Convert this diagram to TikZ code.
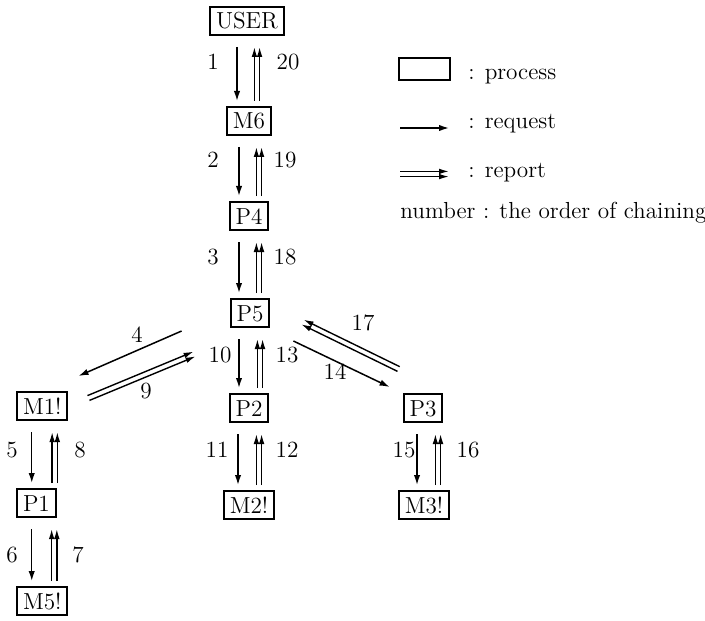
\documentclass[tikz,border=0pt]{standalone}
\usetikzlibrary{arrows.meta,calc}

% vertical request/report pair between two stacked processes;
% #1 gives the x reference, #2 upper node, #3 lower node,
% #4 / #5 horizontal offsets of the request and report lines
\newcommand\vpair[5]{%
  \draw[req] ($(#1.south |- #2.south)+(#4,11)$) -- ($(#1.south |- #3.north)+(#4,-5)$);
  \coordinate (#2-#3-a) at ($(#1.south |- #3.north)+(#5,-5)$);
  \coordinate (#2-#3-b) at ($(#1.south |- #2.south)+(#5,11)$);
  \reportline{#2-#3-a}{#2-#3-b}}

% report: two parallel lines, each with its own head, tip at #2
\newcommand\reportline[2]{%
  \draw[repl] ($(#1)!1.3pt!90:(#2)$) -- ($(#2)!1.3pt!-90:(#1)$);
  \draw[repl] ($(#1)!1.3pt!-90:(#2)$) -- ($(#2)!1.3pt!90:(#1)$);}

\begin{document}
\begin{tikzpicture}[x=0.5pt,y=-0.5pt,
  every node/.style={font=\fontsize{11.6}{14}\selectfont},
  proc/.style={draw,line width=1pt,inner xsep=3pt,inner ysep=0pt,
    minimum height=14pt,text height=8pt,text depth=0pt},
  req/.style={line width=0.75pt,-{Latex[length=5pt,width=3.2pt]}},
  repl/.style={line width=0.7pt,-{Latex[length=5pt,width=2.8pt]}},
  num/.style={inner sep=0pt},
  legtext/.style={inner sep=0pt,anchor=base west}]
\useasboundingbox (0,0) rectangle (705,620);

% processes
\node[proc] (user) at (247,21) {USER};
\node[proc] (m6) at (249,121) {M6};
\node[proc] (p4) at (249,216) {P4};
\node[proc] (p5) at (250,313) {P5};
\node[proc] (p2) at (249,408) {P2};
\node[proc] (m2) at (249,505) {M2!};
\node[proc,anchor=west] (m1) at (16,406) {M1!};
\node[proc,anchor=west] (p1) at (16,503) {P1};
\node[proc,anchor=west] (m5) at (16,601) {M5!};
\node[proc] (p3) at (423,408) {P3};
\node[proc] (m3) at (424,505) {M3!};

% vertical chains
\vpair{user}{user}{m6}{-10}{10}
\vpair{m6}{m6}{p4}{-10}{10}
\vpair{p4}{p4}{p5}{-10}{10}
\vpair{p5}{p5}{p2}{-11}{10}
\vpair{p2}{p2}{m2}{-11}{10}
\vpair{m1}{m1}{p1}{-10.5}{12.5}
\vpair{m1}{p1}{m5}{-10.5}{12}
\vpair{p3}{p3}{m3}{-6}{15}

% diagonal links of P5
\draw[req] ($(p5.south west)+(-48,3)$) -- ($(m1.north east)+(10,-15)$);
\coordinate (r9s) at ($(m1.north east)+(20,7)$);
\coordinate (r9e) at ($(p5.south west)+(-35,26)$);
\reportline{r9s}{r9e}
\draw[req] ($(p5.south east)+(23,13)$) -- ($(p3.north west)+(-13,-6)$);
\coordinate (r17s) at ($(p3.north west)+(-4,-24)$);
\coordinate (r17e) at ($(p5.east)+(32,9)$);
\reportline{r17s}{r17e}

% order of chaining
\node[num] (n1) at (213,62) {1};
\node[num] (n20) at (288,62) {20};
\node[num] (n2) at (213,160) {2};
\node[num] (n19) at (285,160) {19};
\node[num] (n3) at (213,257) {3};
\node[num] (n18) at (285,257) {18};
\node[num] (n10) at (220,355) {10};
\node[num] (n13) at (287,355) {13};
\node[num] (n4) at (137,335) {4};
\node[num] (n9) at (146,391) {9};
\node[num] (n17) at (363,323) {17};
\node[num] (n14) at (335,372) {14};
\node[num] (n5) at (12,450) {5};
\node[num] (n8) at (80,450) {8};
\node[num] (n11) at (217,450) {11};
\node[num] (n12) at (287,450) {12};
\node[num] (n15) at (404,450) {15};
\node[num] (n16) at (468,450) {16};
\node[num] (n6) at (12,555) {6};
\node[num] (n7) at (78,555) {7};

% legend
\node[proc,minimum width=25.5pt,minimum height=11pt,text height=0pt] (lbox) at (424,69) {};
\node[legtext] (lproc) at (468,80) {: process};
\coordinate (lq1) at (400,128);
\coordinate (lq2) at (449,128);
\draw[req] (lq1) -- (lq2);
\node[legtext] (lreq) at (468,129) {: request};
\coordinate (lr1) at (400,174);
\coordinate (lr2) at (449,174);
\reportline{lr1}{lr2}
\node[legtext] (lrep) at (468,177) {: report};
\node[legtext] (lnum) at (400,218) {number : the order of chaining};
\end{tikzpicture}
\end{document}
